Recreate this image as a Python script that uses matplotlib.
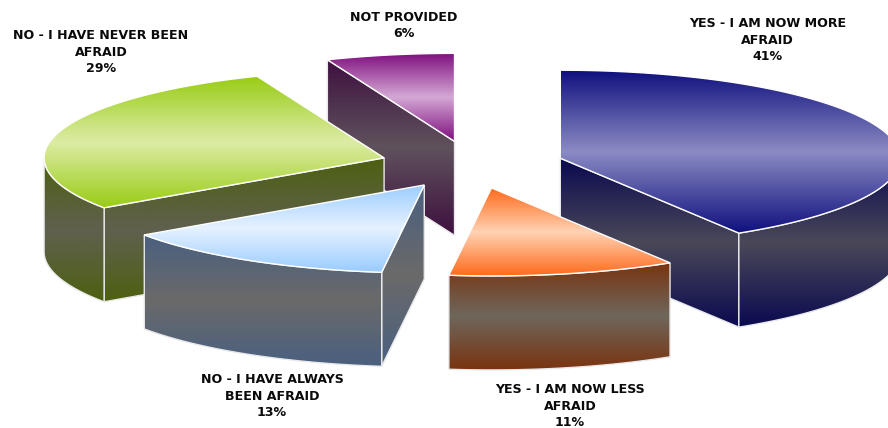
import numpy as np
import matplotlib
matplotlib.use("Agg")
import matplotlib.pyplot as plt
from matplotlib.colors import LinearSegmentedColormap
from matplotlib.patches import PathPatch
from matplotlib.path import Path

# Data
categories = ["YES - I AM NOW MORE\nAFRAID", "YES - I AM NOW LESS\nAFRAID",
              "NO - I HAVE ALWAYS\nBEEN AFRAID", "NO - I HAVE NEVER BEEN\nAFRAID",
              "NOT PROVIDED"]
values = [41.2, 10.8, 13.4, 28.5, 6.1]
percent_labels = ["41%", "11%", "13%", "29%", "6%"]

# Styling
top_edge = ["#10107f", "#ff6a1a", "#99ccff", "#99cc14", "#7f0f7f"]
top_mid = ["#8b8bc4", "#ffd2b4", "#e6f2ff", "#dcecA5", "#d4a8d4"]
wall_edge = ["#0a0a50", "#7a330f", "#4a6080", "#4d6010", "#3e1040"]
wall_mid = ["#4a4858", "#6e675c", "#6a6a6a", "#60604f", "#5f525c"]
label_xy = [(767.5, 40), (570, 406), (272, 396), (101, 52), (404, 25.5)]
draw_order = [4, 3, 0, 1, 2]

CX, CY, RX, RY, DEPTH, EXPLODE = 472.0, 164.7, 340.0, 88.0, 94.0, 0.27

fig = plt.figure(figsize=(8.88, 4.28), dpi=100, facecolor="white")
ax = fig.add_axes([0, 0, 1, 1])


def rim(theta, ox, oy):
    t = np.radians(theta)
    return np.column_stack([ox + RX * np.sin(t), oy - RY * np.cos(t)])


def shade(poly, edge, mid, zorder, line="#e8e8e8", lw=1.0):
    poly = np.asarray(poly)
    path = Path(np.vstack([poly, poly[0]]), closed=True)
    cmap = LinearSegmentedColormap.from_list("g", [edge, mid, edge], N=256)
    grad = np.linspace(0, 1, 256).reshape(-1, 1)
    im = ax.imshow(grad, cmap=cmap, aspect="auto", zorder=zorder,
                   extent=(poly[:, 0].min(), poly[:, 0].max(),
                           poly[:, 1].max(), poly[:, 1].min()),
                   origin="upper", interpolation="bilinear")
    outline = PathPatch(path, facecolor="none", edgecolor=line, lw=lw, zorder=zorder + 0.1)
    ax.add_patch(outline)
    im.set_clip_path(PathPatch(path, transform=ax.transData))


def extrude(edge_pts):
    lower = edge_pts + np.array([0, DEPTH])
    return np.vstack([edge_pts, lower[::-1]])


bounds = np.concatenate([[0], np.cumsum(values)]) / sum(values) * 360.0
for z, i in enumerate(draw_order):
    a0, a1 = bounds[i], bounds[i + 1]
    mid = np.radians((a0 + a1) / 2)
    ox = CX + EXPLODE * RX * np.sin(mid)
    oy = CY - EXPLODE * RY * np.cos(mid)
    apex = np.array([[ox, oy]])
    base = z * 10 + 2

    # cut faces that look towards the viewer
    for ang, front in ((a0, 180 < a0 < 360), (a1, 0 < a1 < 180)):
        if front:
            seg = np.vstack([apex, rim(np.array([ang]), ox, oy)])
            shade(extrude(seg), wall_edge[i], wall_mid[i], base)

    # outer wall, front half of the rim only
    lo, hi = max(a0, 90.0), min(a1, 270.0)
    if hi > lo:
        th = np.linspace(lo, hi, 80)
        shade(extrude(rim(th, ox, oy)), wall_edge[i], wall_mid[i], base + 1)

    # top face
    th = np.linspace(a0, a1, 160)
    shade(np.vstack([apex, rim(th, ox, oy)]), top_edge[i], top_mid[i], base + 2,
          line="#ffffff", lw=1.0)

for name, pct, (x, y) in zip(categories, percent_labels, label_xy):
    ax.text(x, y, name + "\n" + pct, ha="center", va="center", multialignment="center",
            family="DejaVu Sans", fontweight="bold", fontsize=9.1, linespacing=1.36,
            color="#0a0a0a", zorder=100)

ax.set_xlim(0, 888)
ax.set_ylim(428, 0)
ax.axis("off")
fig.savefig("out.png", dpi=100, facecolor="white")
